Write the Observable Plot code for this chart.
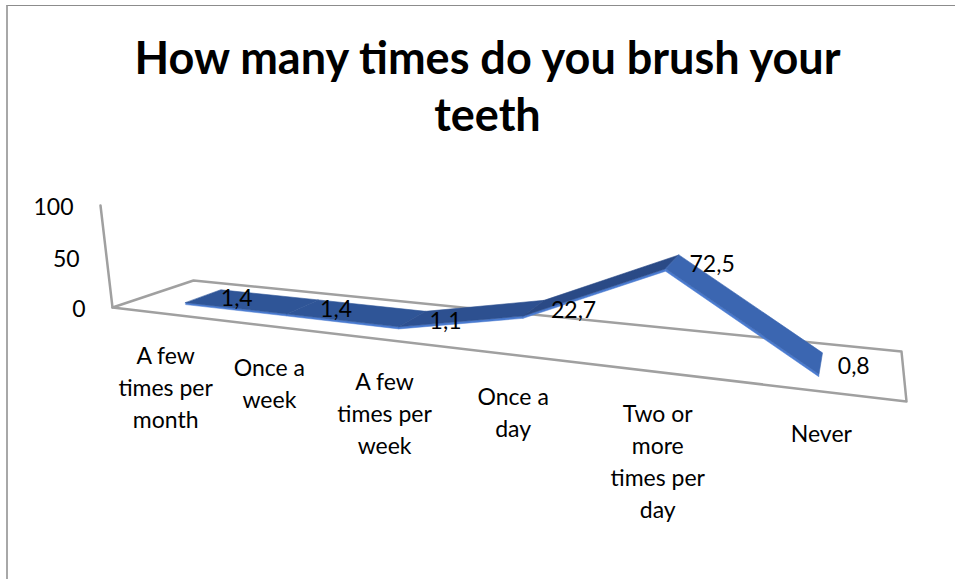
<!DOCTYPE html>
<html><head><meta charset="utf-8">
<script src="https://cdn.jsdelivr.net/npm/d3@7"></script>
<script src="https://cdn.jsdelivr.net/npm/@observablehq/plot@0.6"></script>
<style>
html,body{margin:0;padding:0;background:#fff;overflow:hidden;width:955px;height:579px;position:relative}
#frame{position:absolute;left:6px;top:5px;width:1200px;height:1200px;border-left:2px solid #a8a8a8;border-top:1px solid #8c8c8c;box-sizing:border-box}
#title{position:absolute;left:0;width:975px;top:29px;text-align:center;font-family:Lato,sans-serif;font-weight:700;font-size:45px;line-height:57px;color:#000}
#chart{position:absolute;left:0;top:150px}
</style></head>
<body>
<div id="frame"></div>
<div id="title">How many times do you brush your<br>teeth</div>
<div id="chart"></div>
<script>
// ---- data ----
const categories = ["A few times per month", "Once a week", "A few times per week", "Once a day", "Two or more times per day", "Never"];
const categoryLabels = ["A few\ntimes per\nmonth", "Once a\nweek", "A few\ntimes per\nweek", "Once a\nday", "Two or\nmore\ntimes per\nday", "Never"];
const values = [1.4, 1.4, 1.1, 22.7, 72.5, 0.8];
const valueLabels = ["1,4", "1,4", "1,1", "22,7", "72,5", "0,8"];
const yTicks = [0, 50, 100];
const yMax = 100;

// ---- 3D perspective (Excel-like 3-D line chart) ----
const SVG_TOP = 150;
const FL = [112, 307], FR = [906, 401], BR = [901, 351], BL = [193, 280];
const VP = [530, 3860];          // vanishing point of vertical lines
const AXIS_TOP_Y = 205;          // screen y of value yMax at the front-left corner
function squareToQuad(p0, p1, p2, p3) {
  const [x0, y0] = p0, [x1, y1] = p1, [x2, y2] = p2, [x3, y3] = p3;
  const sx = x0 - x1 + x2 - x3, sy = y0 - y1 + y2 - y3;
  const dx1 = x1 - x2, dx2 = x3 - x2, dy1 = y1 - y2, dy2 = y3 - y2;
  const det = dx1 * dy2 - dx2 * dy1;
  const g = (sx * dy2 - dx2 * sy) / det, h = (dx1 * sy - sx * dy1) / det;
  return {a: x1 - x0 + g * x1, b: x3 - x0 + h * x3, c: x0,
          d: y1 - y0 + g * y1, e: y3 - y0 + h * y3, f: y0, g, h};
}
const Hm = squareToQuad(FL, FR, BR, BL);
const cv = (AXIS_TOP_Y - Hm.f) / (yMax * (VP[1] - AXIS_TOP_Y));
function proj(u, d, v) {
  const X = Hm.a * u + Hm.b * d + Hm.c + v * cv * VP[0];
  const Y = Hm.d * u + Hm.e * d + Hm.f + v * cv * VP[1];
  const W = Hm.g * u + Hm.h * d + 1 + v * cv;
  return [X / W, Y / W - SVG_TOP];
}
// coordinates are [category position u, value v, depth d]
const projection = d3.geoTransform({
  point(u, v, d) { const p = proj(u, d ?? 0, v); this.stream.point(p[0], p[1]); }
});

const n = categories.length;
const uPos = categories.map((c, i) => (i + 0.5) / n);
const D0 = 0.30, D1 = 0.76, DM = (D0 + D1) / 2, THICK = 2.0;

const floor = [{type: "Feature", properties: {}, geometry: {type: "Polygon", coordinates: [[[0, 0, 0], [1, 0, 0], [1, 0, 1], [0, 0, 1], [0, 0, 0]]]}}];
const axisLine = [{type: "Feature", properties: {}, geometry: {type: "LineString", coordinates: [[0, 0, 0], [0, yMax, 0]]}}];
const segs = d3.range(n - 1);
const topFaces = segs.map(i => ({type: "Feature", properties: {slope: values[i + 1] - values[i]}, geometry: {type: "Polygon", coordinates: [[
  [uPos[i], values[i], D0], [uPos[i + 1], values[i + 1], D0], [uPos[i + 1], values[i + 1], D1], [uPos[i], values[i], D1], [uPos[i], values[i], D0]]]}}));
const frontFaces = segs.map(i => ({type: "Feature", properties: {}, geometry: {type: "Polygon", coordinates: [[
  [uPos[i], values[i], D0], [uPos[i + 1], values[i + 1], D0], [uPos[i + 1], values[i + 1] - THICK, D0], [uPos[i], values[i] - THICK, D0], [uPos[i], values[i], D0]]]}}));

const pt = (u, v, d) => ({type: "Point", coordinates: [u, v, d]});

const chart = Plot.plot({
  width: 955, height: 429, margin: 0,
  projection,
  style: {fontFamily: "Lato, sans-serif", fontSize: "23px", color: "#000", background: "transparent", overflow: "visible"},
  color: {type: "linear", domain: [-72, 0, 50], range: ["#3b66b1", "#2f5597", "#2a4a86"]},
  marks: [
    Plot.geo(floor, {stroke: "#a0a0a0", strokeWidth: 2.5, fill: "none"}),
    Plot.geo(axisLine, {stroke: "#a0a0a0", strokeWidth: 2.5}),
    Plot.geo(frontFaces, {fill: "#4a7bd0", stroke: "#4a7bd0", strokeWidth: 0.5}),
    Plot.geo(topFaces, {fill: d => d.properties.slope, stroke: d => d.properties.slope, strokeWidth: 0.6}),
    Plot.text(yTicks, Plot.centroid({geometry: t => pt(0, t, 0), text: t => String(t), textAnchor: "end", dx: -27, dy: 2, fill: "#000", fontSize: 23})),
    Plot.text(categories, Plot.centroid({geometry: (c, i) => pt(uPos[i], 0, 0), text: (c, i) => categoryLabels[i], lineAnchor: "top", dy: 28, dx: 5, lineHeight: 1.39, fill: "#000", fontSize: 23})),
    Plot.text(values, Plot.centroid({geometry: (v, i) => pt(uPos[i], v, DM), text: (v, i) => valueLabels[i], textAnchor: "start", dx: 17, dy: 3, fill: "#000", fontSize: 23}))
  ]
});
document.getElementById("chart").appendChild(chart);
</script>
</body></html>
